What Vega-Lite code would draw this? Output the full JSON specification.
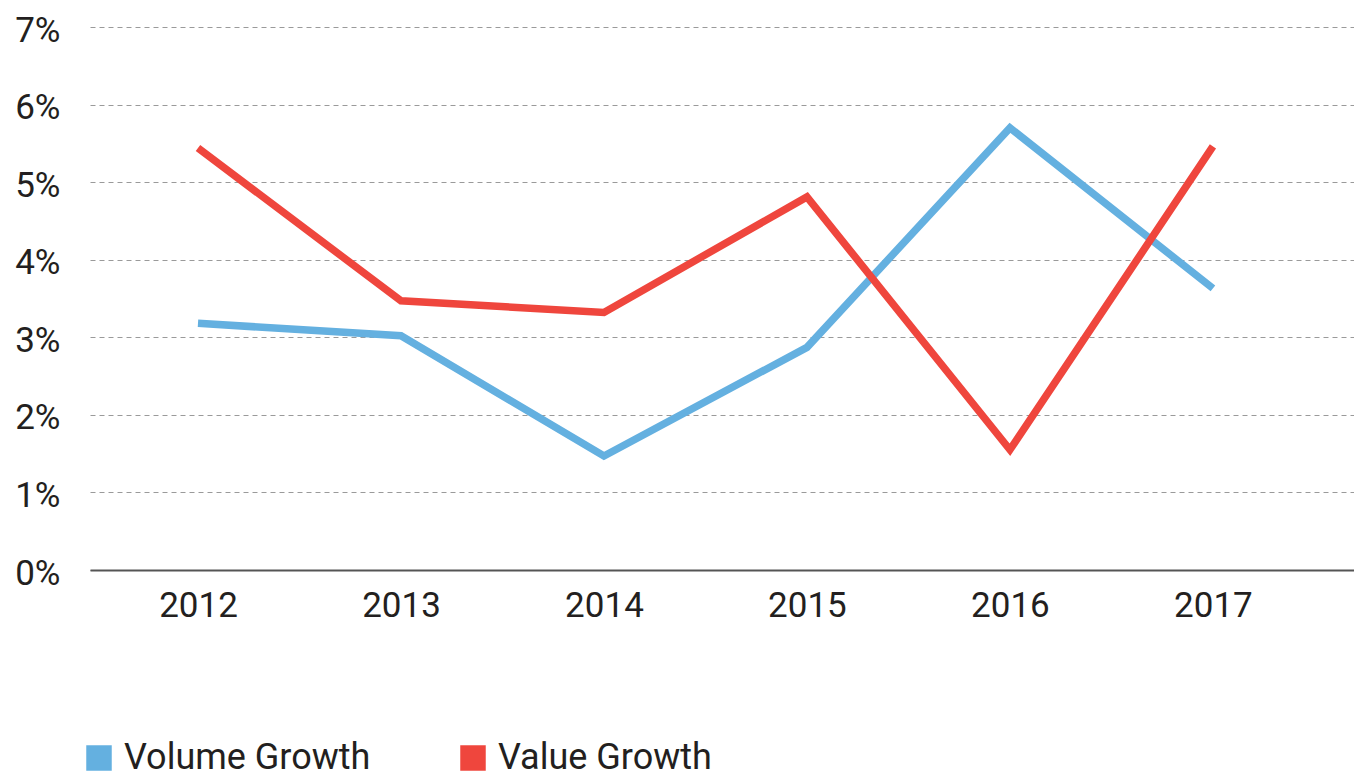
{
  "$schema": "https://vega.github.io/schema/vega-lite/v6.json",
  "width": 1264,
  "height": 543,
  "autosize": {"type": "none"},
  "padding": {"left": 90, "top": 27, "right": 0, "bottom": 202},
  "background": "white",
  "config": {
    "view": {"stroke": null},
    "font": "Roboto",
    "axis": {"labelFont": "Roboto", "labelColor": "#231f20", "labelFontSize": 35, "ticks": false}
  },
  "data": {
    "values": [
      {"year": 2012, "series": "Volume Growth", "value": 3.18},
      {"year": 2013, "series": "Volume Growth", "value": 3.02},
      {"year": 2014, "series": "Volume Growth", "value": 1.47},
      {"year": 2015, "series": "Volume Growth", "value": 2.87},
      {"year": 2016, "series": "Volume Growth", "value": 5.70},
      {"year": 2017, "series": "Volume Growth", "value": 3.63},
      {"year": 2012, "series": "Value Growth", "value": 5.44},
      {"year": 2013, "series": "Value Growth", "value": 3.47},
      {"year": 2014, "series": "Value Growth", "value": 3.32},
      {"year": 2015, "series": "Value Growth", "value": 4.81},
      {"year": 2016, "series": "Value Growth", "value": 1.55},
      {"year": 2017, "series": "Value Growth", "value": 5.46}
    ]
  },
  "mark": {"type": "line", "strokeWidth": 7.5, "strokeCap": "butt"},
  "encoding": {
    "x": {
      "field": "year", "type": "quantitative",
      "scale": {"domain": [2011.468, 2017.695], "nice": false, "zero": false},
      "axis": {
        "title": null, "values": [2012, 2013, 2014, 2015, 2016, 2017], "format": "d",
        "grid": false, "domain": true, "domainColor": "#555555", "domainWidth": 2,
        "labelPadding": 18, "labelFlush": false, "zindex": 1
      }
    },
    "y": {
      "field": "value", "type": "quantitative",
      "scale": {"domain": [0, 7], "nice": false},
      "axis": {
        "title": null, "values": [0, 1, 2, 3, 4, 5, 6, 7],
        "labelExpr": "datum.value + '%'",
        "domain": false, "grid": true, "gridDash": [5, 4], "gridColor": "#9a9a9a", "gridWidth": 1,
        "labelPadding": 30, "labelOffset": 3
      }
    },
    "color": {
      "field": "series", "type": "nominal",
      "scale": {"domain": ["Volume Growth", "Value Growth"], "range": ["#64b0e0", "#ef463d"]},
      "legend": {
        "title": null, "orient": "none", "direction": "horizontal",
        "legendX": -9, "legendY": 713, "padding": 0,
        "symbolType": "square", "symbolSize": 650, "symbolStrokeWidth": 0,
        "symbolOpacity": 1,
        "labelFont": "Roboto", "labelFontSize": 36, "labelColor": "#231f20",
        "labelOffset": 7, "columnPadding": 84, "labelLimit": 400,
        "encode": {
          "symbols": {"update": {"fill": {"scale": "color", "field": "value"}, "fillOpacity": {"value": 1}}}
        }
      }
    }
  }
}
